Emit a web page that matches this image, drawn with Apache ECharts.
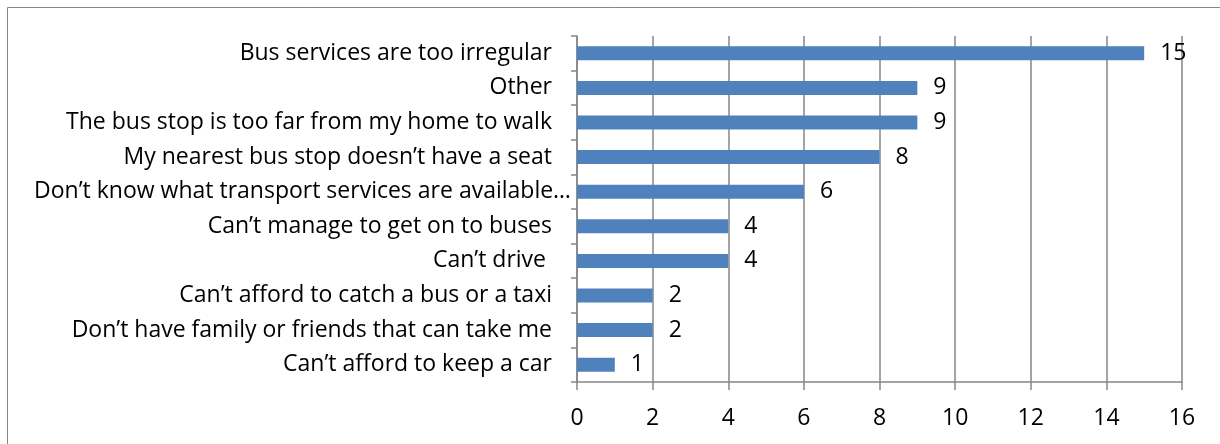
<!DOCTYPE html>
<html><head><meta charset="utf-8">
<script src="https://cdn.jsdelivr.net/npm/echarts@6/dist/echarts.min.js"></script>
<style>html,body{margin:0;padding:0;background:#fff}#c{width:1220px;height:444px}</style>
</head><body><div id="c"></div>
<script>
const categories = [
  "Bus services are too irregular",
  "Other",
  "The bus stop is too far from my home to walk",
  "My nearest bus stop doesn\u2019t have a seat",
  "Don\u2019t know what transport services are available\u2026",
  "Can\u2019t manage to get on to buses",
  "Can\u2019t drive ",
  "Can\u2019t afford to catch a bus or a taxi",
  "Don\u2019t have family or friends that can take me",
  "Can\u2019t afford to keep a car"
];
const values = [15, 9, 9, 8, 6, 4, 4, 2, 2, 1];
const xTicks = [0, 2, 4, 6, 8, 10, 12, 14, 16];

const FONT = "Open Sans";
const chart = echarts.init(document.getElementById('c'), null, {renderer: 'canvas'});
chart.setOption({
  animation: false,
  textStyle: {fontFamily: FONT},
  graphic: [{
    type: 'rect', shape: {x: 7.5, y: 7.5, width: 1230, height: 460},
    style: {fill: 'none', stroke: '#868686', lineWidth: 1}, silent: true
  }],
  grid: {left: 577, right: 38, top: 36, bottom: 62, containLabel: false},
  xAxis: {
    type: 'value', min: xTicks[0], max: xTicks[xTicks.length - 1], interval: 2,
    axisLine: {show: true, lineStyle: {color: '#868686', width: 1.5}},
    axisTick: {show: true, length: 8, lineStyle: {color: '#868686', width: 1.5}},
    splitLine: {show: true, lineStyle: {color: '#868686', width: 1.5}},
    axisLabel: {color: '#000', fontSize: 23, margin: 25, fontFamily: FONT}
  },
  yAxis: {
    type: 'category', data: categories, inverse: true,
    axisLine: {show: true, lineStyle: {color: '#868686', width: 1.5}},
    axisTick: {show: true, length: 6, lineStyle: {color: '#868686', width: 1.5}},
    axisLabel: {
      color: '#000', fontSize: 23, margin: 5, fontFamily: FONT,
      formatter: function (v) { return v.endsWith('\u2026') ? '{t|' + v + '}' : '{n|' + v + '}'; },
      rich: {
        n: {fontSize: 23, fontFamily: FONT, color: '#000', padding: [0, 20, 0, 0]},
        t: {fontSize: 23, fontFamily: FONT, color: '#000', padding: [0, 1, 0, 0]}
      }
    }
  },
  series: [{
    type: 'bar', data: values, barWidth: 14,
    itemStyle: {color: '#4F81BD'},
    label: {show: true, position: 'right', distance: 16, color: '#000', fontSize: 23, fontFamily: FONT}
  }]
});
</script></body></html>
